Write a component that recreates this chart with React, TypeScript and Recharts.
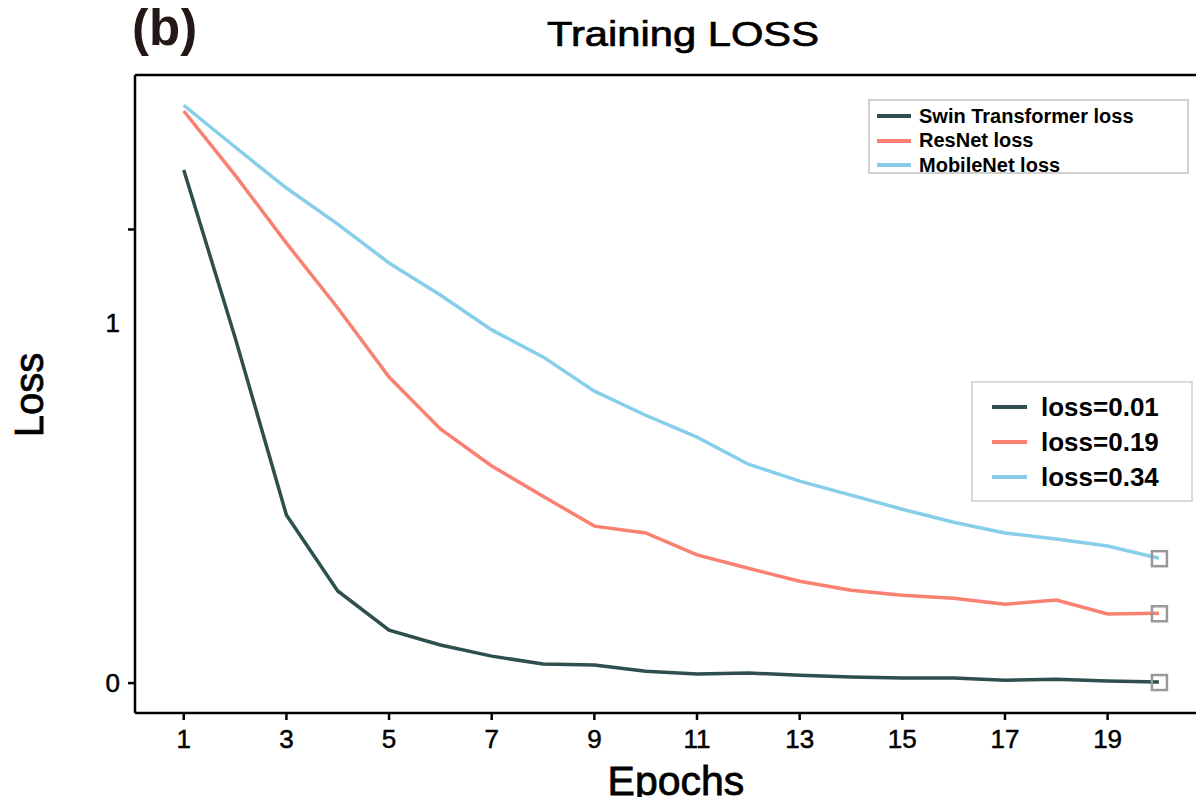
import { LineChart, Line, XAxis, YAxis, Legend, ReferenceLine } from 'recharts';

const epochs = [1, 2, 3, 4, 5, 6, 7, 8, 9, 10, 11, 12, 13, 14, 15, 16, 17, 18, 19, 20];
const swinLoss = [1.425, 0.96, 0.467, 0.256, 0.147, 0.106, 0.075, 0.053, 0.05, 0.033, 0.025, 0.028, 0.022, 0.017, 0.014, 0.014, 0.008, 0.011, 0.006, 0.003];
const resnetLoss = [1.589, 1.411, 1.222, 1.042, 0.85, 0.706, 0.603, 0.519, 0.436, 0.417, 0.356, 0.319, 0.283, 0.258, 0.244, 0.236, 0.219, 0.231, 0.192, 0.194];
const mobileLoss = [1.605, 1.489, 1.375, 1.275, 1.167, 1.078, 0.981, 0.906, 0.811, 0.744, 0.683, 0.608, 0.561, 0.522, 0.483, 0.447, 0.417, 0.4, 0.381, 0.347];

const seriesKeys = ['swin', 'resnet', 'mobile'];
const seriesNames = ['Swin Transformer loss', 'ResNet loss', 'MobileNet loss'];
const seriesColors = ['#2F4F4F', '#FA8072', '#87CEEB'];
const finalLossLabels = ['loss=0.01', 'loss=0.19', 'loss=0.34'];

const xTicks = [1, 3, 5, 7, 9, 11, 13, 15, 17, 19];
// 1 is labelled without a tick mark, the mark near 1.26 has no label
const yTicks = [0, 1, 1.26];
const xDomain = [0.05, 20.8];
const yDomain = [-0.083, 1.689];

const FONT = '"Liberation Sans", Arial, sans-serif';

const data = epochs.map((epoch, i) => ({
    epoch,
    swin: swinLoss[i],
    resnet: resnetLoss[i],
    mobile: mobileLoss[i],
}));

function YTick(props: any) {
    const { x, y, payload } = props;
    const v = payload.value;
    return (
        <g>
            {v !== 1 && <line x1={x + 8} x2={x + 15} y1={y} y2={y} stroke="#000" strokeWidth={2.5} />}
            {v !== 1.26 && (
                <text x={x} y={y} dy="0.36em" textAnchor="end" fontSize={26} fontFamily={FONT} fill="#000" stroke="#000" strokeWidth={0.5}>
                    {v}
                </text>
            )}
        </g>
    );
}

function lastSquare(props: any) {
    const { cx, cy, index } = props;
    if (index !== epochs.length - 1) return <g key={`d${index}`} />;
    return (
        <rect key={`d${index}`} x={cx - 7} y={cy - 7} width={15} height={15} fill="none" stroke="#999" strokeWidth={2.5} />
    );
}

function TopLegend() {
    return (
        <div style={{ width: 321, height: 75, border: '2px solid #d0d0d0', background: '#fff', boxSizing: 'border-box', paddingTop: 3, fontFamily: FONT }}>
            {seriesNames.map((name, i) => (
                <div key={name} style={{ display: 'flex', alignItems: 'center', height: 24.5 }}>
                    <div style={{ width: 34, height: 4, background: seriesColors[i], marginLeft: 7, marginRight: 8 }} />
                    <span style={{ fontSize: 20, fontWeight: 700, color: '#000' }}>{name}</span>
                </div>
            ))}
        </div>
    );
}

export default function App() {
    return (
        <div style={{ position: 'relative', width: 1204, height: 805, margin: -8, background: '#fff' }}>
            <LineChart width={1204} height={805} data={data} margin={{ top: 75, right: 4, bottom: 62, left: 75 }}>
                <XAxis
                    dataKey="epoch"
                    type="number"
                    domain={xDomain}
                    allowDataOverflow
                    ticks={xTicks}
                    height={30}
                    tickSize={7}
                    tickMargin={10}
                    axisLine={{ stroke: '#000', strokeWidth: 2.5 }}
                    tickLine={{ stroke: '#000', strokeWidth: 2.5 }}
                    tick={{ fill: '#000', fontSize: 26, fontFamily: FONT, stroke: '#000', strokeWidth: 0.5 }}
                />
                <YAxis
                    type="number"
                    domain={yDomain}
                    allowDataOverflow
                    ticks={yTicks}
                    width={60}
                    tickSize={7}
                    tickMargin={8}
                    tickLine={false}
                    axisLine={{ stroke: '#000', strokeWidth: 2.5 }}
                    tick={<YTick />}
                />
                {/* frame: top and right edges */}
                <ReferenceLine y={yDomain[1]} stroke="#000" strokeWidth={2.5} ifOverflow="visible" />
                <ReferenceLine x={xDomain[1]} stroke="#000" strokeWidth={2.5} ifOverflow="visible" />
                <Legend
                    layout="horizontal"
                    verticalAlign="middle"
                    align="center"
                    content={<TopLegend />}
                    wrapperStyle={{ position: 'absolute', left: 868, top: 99, width: 321, height: 75 }}
                />
                {seriesKeys.map((key, i) => (
                    <Line
                        key={key}
                        dataKey={key}
                        name={seriesNames[i]}
                        stroke={seriesColors[i]}
                        strokeWidth={3.5}
                        type="linear"
                        dot={lastSquare}
                        activeDot={false}
                        isAnimationActive={false}
                    />
                ))}
            </LineChart>
            <svg width={1204} height={805} style={{ position: 'absolute', left: 0, top: 0, pointerEvents: 'none' }}>
                <text x={132} y={45} fontSize={51} fontWeight={700} fontFamily={FONT} fill="#231815">(b)</text>
                <text x={683} y={46} fontSize={35} fontFamily={FONT} textAnchor="middle" textLength={272} lengthAdjust="spacingAndGlyphs" fill="#000" stroke="#000" strokeWidth={0.7}>Training LOSS</text>
                <text x={676} y={795} fontSize={41} fontFamily={FONT} textAnchor="middle" fill="#000" stroke="#000" strokeWidth={0.8}>Epochs</text>
                <text x={43} y={395} fontSize={40} fontFamily={FONT} textAnchor="middle" transform="rotate(-90 43 395)" fill="#000" stroke="#000" strokeWidth={0.8}>Loss</text>
                <rect x={972} y={382} width={220} height={119} fill="#fff" stroke="#d9d9d9" strokeWidth={2} />
                {finalLossLabels.map((label, i) => (
                    <g key={label}>
                        <line x1={992} x2={1027} y1={407 + i * 35} y2={407 + i * 35} stroke={seriesColors[i]} strokeWidth={4} />
                        <text x={1041} y={407 + i * 35} dy="0.36em" fontSize={26} fontWeight={700} fontFamily={FONT} fill="#000">{label}</text>
                    </g>
                ))}
            </svg>
        </div>
    );
}
